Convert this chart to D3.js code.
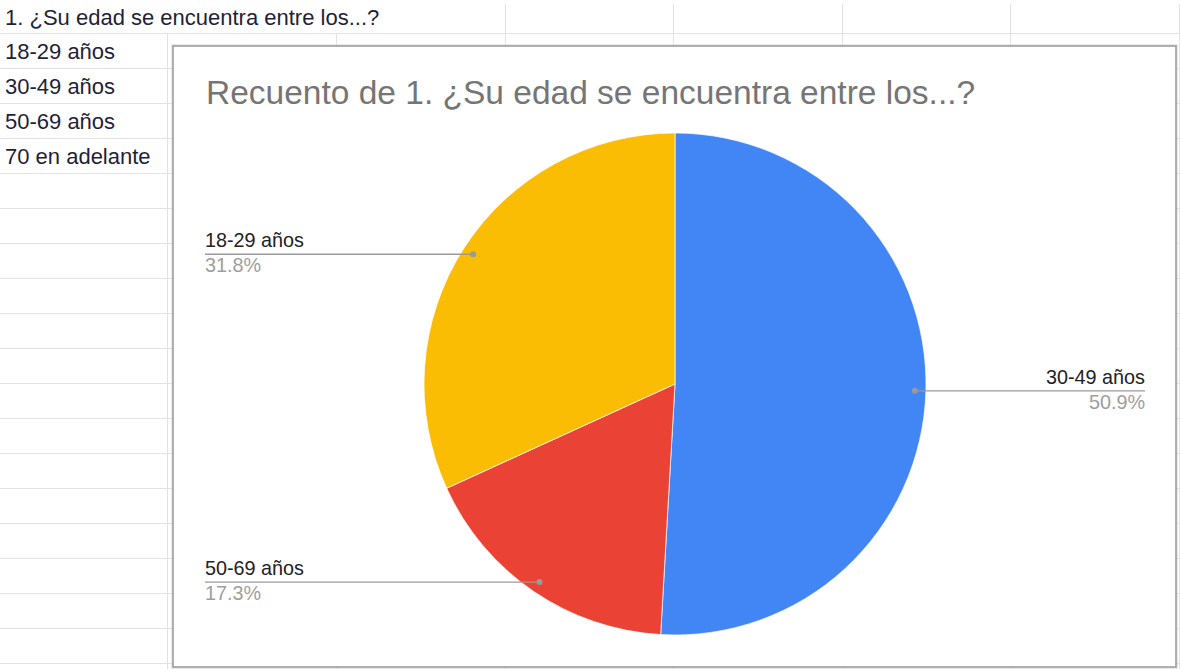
<!DOCTYPE html>
<html><head><meta charset="utf-8">
<script src="https://cdn.jsdelivr.net/npm/d3@7"></script>
<style>html,body{margin:0;padding:0;background:#fff;overflow:hidden}svg{display:block}</style>
</head><body>
<script>
// ---- data ----
const sheetHeader = "1. ¿Su edad se encuentra entre los...?";
const sheetCells = ["18-29 años", "30-49 años", "50-69 años", "70 en adelante"];
const chartTitle = "Recuento de 1. ¿Su edad se encuentra entre los...?";
const sliceLabels = ["30-49 años", "50-69 años", "18-29 años"];
const sliceCounts = [56, 19, 35];
const sliceColors = ["#4285f4", "#ea4335", "#fbbc04"];

const W = 1180, H = 669;
const svg = d3.select("body").append("svg").attr("width", W).attr("height", H);
const font = "'Liberation Sans', Arial, sans-serif";

// ---- spreadsheet grid ----
const grid = svg.append("g").attr("stroke", "#e2e2e2").attr("stroke-width", 1);
const rowH = 35, firstRow = 33;
for (let y = firstRow; y <= H; y += rowH) {
  grid.append("line").attr("x1", 0).attr("x2", W).attr("y1", y + 0.5).attr("y2", y + 0.5);
}
const colX = [167, 336, 505, 673, 842, 1010, 1179];
colX.forEach(x => {
  grid.append("line").attr("x1", x + 0.5).attr("x2", x + 0.5)
    .attr("y1", x < 400 ? firstRow : 4).attr("y2", H);
});
svg.append("text").attr("x", 5).attr("y", 25).attr("font-family", font)
  .attr("font-size", 22).attr("fill", "#1f1f3a").text(sheetHeader);
svg.selectAll("text.cell").data(sheetCells).join("text").attr("class", "cell")
  .attr("x", 5).attr("y", (d, i) => firstRow + rowH * (i + 1) - 9.5)
  .attr("font-family", font).attr("font-size", 22).attr("fill", "#1f1f3a").text(d => d);

// ---- chart box ----
const box = {x: 173, y: 46, w: 1003, h: 621};
svg.append("rect").attr("x", box.x - 1).attr("y", box.y - 1).attr("width", box.w + 2).attr("height", box.h + 2)
  .attr("fill", "none").attr("stroke", "#d6d6d6").attr("stroke-width", 1);
svg.append("rect").attr("x", box.x).attr("y", box.y).attr("width", box.w).attr("height", box.h)
  .attr("fill", "#fff").attr("stroke", "#9e9e9e").attr("stroke-width", 1.6);

svg.append("text").attr("x", 206).attr("y", 104).attr("font-family", font)
  .attr("font-size", 33.5).attr("fill", "#757575").text(chartTitle);

// ---- pie ----
const cx = 675, cy = 384, R = 251;
const total = d3.sum(sliceCounts);
const data = sliceLabels.map((l, i) => ({label: l, value: sliceCounts[i], color: sliceColors[i]}));
const pie = d3.pie().sort(null).value(d => d.value);
const arcs = pie(data);
const arc = d3.arc().innerRadius(0).outerRadius(R);
const g = svg.append("g").attr("transform", `translate(${cx},${cy})`);
g.selectAll("path").data(arcs).join("path").attr("d", arc).attr("fill", d => d.data.color)
  .attr("stroke", "#fff").attr("stroke-width", 0.7);

const dotArc = d3.arc().innerRadius(240).outerRadius(240);
const fmt = d3.format(".1%");
const leftX = 205, rightX = 1145;
arcs.forEach(a => {
  const [dx, dy] = dotArc.centroid(a);
  const px = cx + dx, py = cy + dy;
  const right = dx > 0;
  const tx = right ? rightX : leftX;
  svg.append("line").attr("x1", px).attr("x2", tx).attr("y1", py).attr("y2", py)
    .attr("stroke", "#9a9a9a").attr("stroke-width", 1.4);
  svg.append("circle").attr("cx", px).attr("cy", py).attr("r", 3).attr("fill", "#9a9a9a");
  svg.append("text").attr("x", tx).attr("y", py - 7).attr("text-anchor", right ? "end" : "start")
    .attr("font-family", font).attr("font-size", 19.8).attr("fill", "#222").text(a.data.label);
  svg.append("text").attr("x", tx).attr("y", py + 18).attr("text-anchor", right ? "end" : "start")
    .attr("font-family", font).attr("font-size", 19.8).attr("fill", "#9e9e9e").text(fmt(a.data.value / total));
});
</script>
</body></html>
